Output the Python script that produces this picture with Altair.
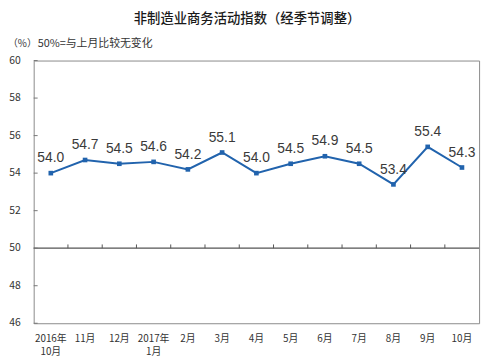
import altair as alt
import pandas as pd

categories = ["2016年|10月", "11月", "12月", "2017年|1月", "2月", "3月", "4月",
              "5月", "6月", "7月", "8月", "9月", "10月"]
values = [54.0, 54.7, 54.5, 54.6, 54.2, 55.1, 54.0, 54.5, 54.9, 54.5, 53.4, 55.4, 54.3]
y_ticks = [46, 48, 50, 52, 54, 56, 58, 60]

title_text = "非制造业商务活动指数（经季节调整）"
unit_text = "（%）"
note_text = "50%=与上月比较无变化"

FONT = "Noto Sans CJK SC"
LINE = "#2163ad"

df = pd.DataFrame({"i": list(range(len(values))), "v": values,
                   "lbl": [f"{v:.1f}" for v in values], "cat": categories})
bounds = pd.DataFrame({"b": [k + 0.5 for k in range(len(values) - 1)],
                       "y0": [50.0] * (len(values) - 1), "y1": [50.2] * (len(values) - 1)})
yt = pd.DataFrame({"t": y_ticks, "tl": [str(t) for t in y_ticks]})

xs = alt.Scale(domain=[-0.5, len(values) - 0.5], nice=False, zero=False)
ys = alt.Scale(domain=[46, 60], nice=False, zero=False)

X = lambda f: alt.X(f, scale=xs, axis=None)
Y = lambda f: alt.Y(f, scale=ys, axis=None)

base = alt.Chart(df)

line = base.mark_line(color=LINE, strokeWidth=2).encode(x=X("i:Q"), y=Y("v:Q"))
pts = base.mark_point(shape="square", filled=True, color=LINE, size=22, opacity=1).encode(
    x=X("i:Q"), y=Y("v:Q"))
txt = base.mark_text(font="Liberation Sans", fontSize=14, color="#3a3a3a", dy=-15).encode(
    x=X("i:Q"), y=Y("v:Q"), text="lbl:N")
xlab = base.mark_text(font=FONT, fontSize=10, color="#333333", baseline="top",
                      lineBreak="|", lineHeight=13).encode(
    x=X("i:Q"), y=alt.value(277), text="cat:N")

rule50 = alt.Chart(pd.DataFrame({"y": [50]})).mark_rule(color="#555555", strokeWidth=1.2).encode(
    y=Y("y:Q"))
btick = alt.Chart(bounds).mark_rule(color="#555555", strokeWidth=1).encode(
    x=X("b:Q"), y=Y("y0:Q"), y2="y1:Q")
ltick = alt.Chart(yt).mark_rule(color="#777777", strokeWidth=1).encode(
    y=Y("t:Q"), x=alt.value(0), x2=alt.value(4))
ylab = alt.Chart(yt).mark_text(font=FONT, fontSize=10.5, color="#333333", align="right",
                               baseline="middle").encode(
    y=Y("t:Q"), x=alt.value(-13), text="tl:N")

ann = pd.DataFrame({"a": [0]})
title = alt.Chart(ann).mark_text(font=FONT, fontSize=13.5, fontWeight=500, color="#1a1a1a").encode(
    x=alt.value(216), y=alt.value(-42), text=alt.value(title_text))
unit = alt.Chart(ann).mark_text(font=FONT, fontSize=10, color="#333333", align="left").encode(
    x=alt.value(-26), y=alt.value(-17), text=alt.value(unit_text))
note = alt.Chart(ann).mark_text(font=FONT, fontSize=11, color="#333333", align="left").encode(
    x=alt.value(4), y=alt.value(-17), text=alt.value(note_text))

chart = alt.layer(rule50, btick, ltick, line, pts, txt, xlab, ylab, title, unit, note).properties(
    width=451, height=266,
    autosize=alt.AutoSizeParams(type="none"),
    padding={"left": 26, "top": 51, "right": 8, "bottom": 35},
    background="white",
).configure_view(stroke="#8a8a8a", strokeWidth=1)

chart.save("out.html", embed_options={"renderer": "svg", "actions": False})
